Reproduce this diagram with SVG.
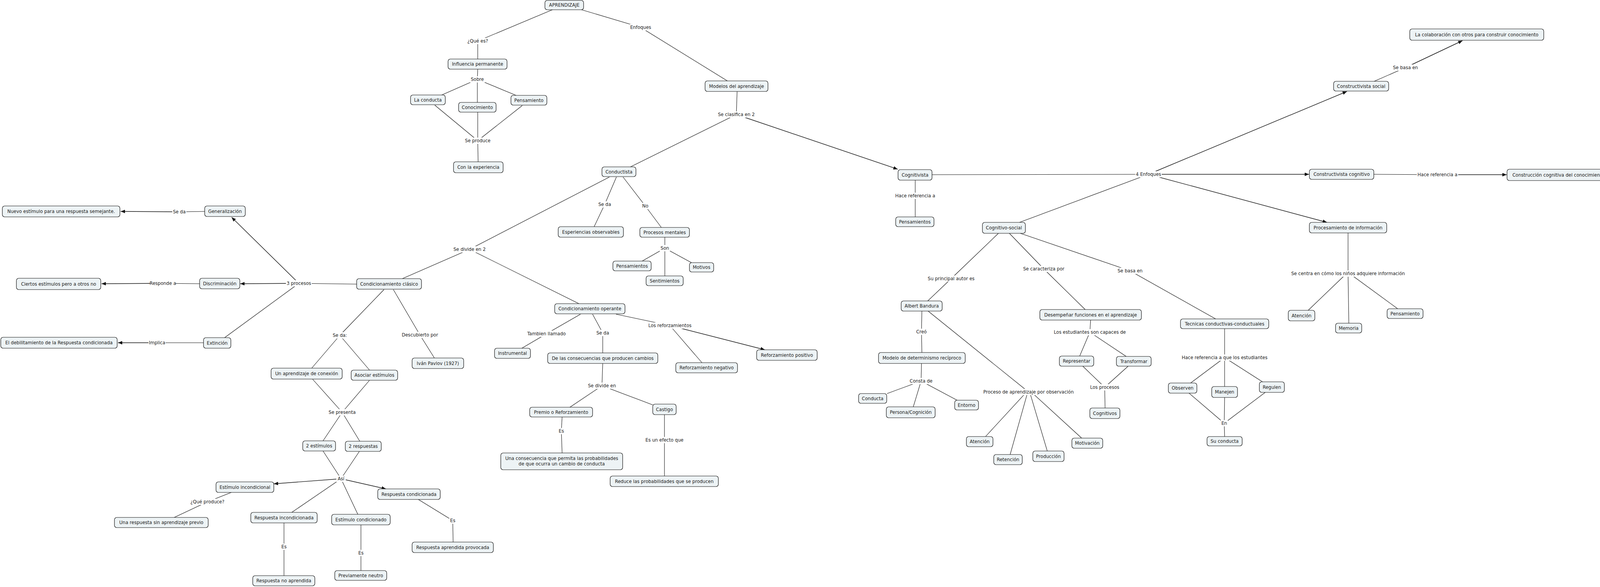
<svg xmlns="http://www.w3.org/2000/svg" width="4269" height="1502" viewBox="0 0 4269 1502">
<style>
.n rect{fill:#edf3f5;stroke:#111;stroke-width:1.2}
text{font-family:"DejaVu Sans","Verdana",sans-serif;font-size:11.6px;fill:#1a1a1a;text-anchor:middle}
.c line{stroke:#111;stroke-width:1.1;fill:none}
.c line.a{stroke-width:1.4;marker-end:url(#ar)}
.l rect{fill:#fff;stroke:none}
</style>
<defs>
<marker id="ar" markerUnits="userSpaceOnUse" markerWidth="11" markerHeight="9" refX="11" refY="4.5" orient="auto"><path d="M0,0 L11,4.5 L0,9 z" fill="#111"/></marker>
</defs>
<rect width="4269" height="1502" fill="#fff"/>
<g id="connectors" class="c">
<line x1="1414" y1="25" x2="1223" y2="105"/>
<line x1="1223" y1="105" x2="1223" y2="151"/>
<line x1="1223" y1="177" x2="1222" y2="203"/>
<line x1="1222" y1="203" x2="1131" y2="243"/>
<line x1="1222" y1="203" x2="1222" y2="262"/>
<line x1="1222" y1="203" x2="1321" y2="244"/>
<line x1="1113" y1="269" x2="1223" y2="360"/>
<line x1="1223" y1="287" x2="1223" y2="360"/>
<line x1="1337" y1="270" x2="1223" y2="360"/>
<line x1="1223" y1="360" x2="1224" y2="414"/>
<line x1="1489" y1="25" x2="1640" y2="70"/>
<line x1="1640" y1="70" x2="1862" y2="207"/>
<line x1="1887" y1="234" x2="1885" y2="293"/>
<line x1="1885" y1="293" x2="1614" y2="427"/>
<line class="a" x1="1885" y1="293" x2="2298" y2="433"/>
<line x1="1578" y1="453" x2="1548" y2="523"/>
<line x1="1548" y1="523" x2="1521" y2="580"/>
<line x1="1595" y1="453" x2="1652" y2="527"/>
<line x1="1652" y1="527" x2="1693" y2="582"/>
<line x1="1702" y1="607" x2="1702" y2="635"/>
<line x1="1702" y1="635" x2="1644" y2="668"/>
<line x1="1702" y1="635" x2="1702" y2="706"/>
<line x1="1702" y1="635" x2="1770" y2="672"/>
<line x1="1560" y1="453" x2="1202" y2="638"/>
<line x1="1202" y1="638" x2="1030" y2="713"/>
<line x1="1202" y1="638" x2="1482" y2="777"/>
<line x1="1486" y1="804" x2="1399" y2="854"/>
<line x1="1399" y1="854" x2="1336" y2="891"/>
<line x1="1517" y1="804" x2="1543" y2="852"/>
<line x1="1543" y1="852" x2="1543" y2="903"/>
<line x1="1577" y1="804" x2="1715" y2="833"/>
<line class="a" x1="1715" y1="833" x2="1958" y2="895"/>
<line x1="1715" y1="833" x2="1797" y2="928"/>
<line x1="1543" y1="930" x2="1541" y2="987"/>
<line x1="1541" y1="987" x2="1459" y2="1042"/>
<line x1="1541" y1="987" x2="1671" y2="1036"/>
<line x1="1439" y1="1067" x2="1437" y2="1103"/>
<line x1="1437" y1="1103" x2="1439" y2="1159"/>
<line x1="1701" y1="1061" x2="1701" y2="1126"/>
<line x1="1701" y1="1126" x2="1701" y2="1218"/>
<line x1="913" y1="727" x2="765" y2="725"/>
<line class="a" x1="765" y1="725" x2="593" y2="556"/>
<line class="a" x1="765" y1="725" x2="615" y2="726"/>
<line x1="765" y1="725" x2="575" y2="864"/>
<line x1="524" y1="541" x2="459" y2="542"/>
<line class="a" x1="459" y1="542" x2="309" y2="541"/>
<line x1="511" y1="726" x2="417" y2="725"/>
<line class="a" x1="417" y1="725" x2="260" y2="726"/>
<line x1="521" y1="877" x2="402" y2="877"/>
<line class="a" x1="402" y1="877" x2="302" y2="877"/>
<line x1="983" y1="741" x2="870" y2="858"/>
<line x1="870" y1="858" x2="798" y2="942"/>
<line x1="870" y1="858" x2="946" y2="947"/>
<line x1="1007" y1="741" x2="1075" y2="857"/>
<line x1="1075" y1="857" x2="1112" y2="916"/>
<line x1="800" y1="970" x2="876" y2="1055"/>
<line x1="946" y1="973" x2="876" y2="1055"/>
<line x1="876" y1="1055" x2="827" y2="1128"/>
<line x1="876" y1="1055" x2="921" y2="1129"/>
<line x1="827" y1="1154" x2="873" y2="1225"/>
<line x1="920" y1="1155" x2="873" y2="1225"/>
<line class="a" x1="873" y1="1225" x2="701" y2="1238"/>
<line class="a" x1="873" y1="1225" x2="988" y2="1251"/>
<line x1="873" y1="1225" x2="747" y2="1311"/>
<line x1="873" y1="1225" x2="916" y2="1316"/>
<line x1="592" y1="1260" x2="531" y2="1284"/>
<line x1="531" y1="1284" x2="446" y2="1324"/>
<line x1="727" y1="1338" x2="727" y2="1399"/>
<line x1="727" y1="1399" x2="727" y2="1473"/>
<line x1="924" y1="1343" x2="924" y2="1415"/>
<line x1="924" y1="1415" x2="924" y2="1460"/>
<line x1="1071" y1="1278" x2="1159" y2="1332"/>
<line x1="1159" y1="1332" x2="1160" y2="1387"/>
<line x1="2386" y1="447" x2="2940" y2="446"/>
<line class="a" x1="2940" y1="446" x2="3448" y2="234"/>
<line class="a" x1="2940" y1="446" x2="3351" y2="446"/>
<line class="a" x1="2940" y1="446" x2="3397" y2="569"/>
<line x1="2940" y1="446" x2="2610" y2="569"/>
<line x1="2343" y1="461" x2="2343" y2="501"/>
<line x1="2343" y1="501" x2="2343" y2="555"/>
<line x1="2556" y1="597" x2="2435" y2="713"/>
<line x1="2435" y1="713" x2="2375" y2="770"/>
<line x1="2584" y1="597" x2="2672" y2="688"/>
<line x1="2672" y1="688" x2="2778" y2="792"/>
<line x1="2612" y1="597" x2="2893" y2="693"/>
<line x1="2893" y1="693" x2="3112" y2="816"/>
<line x1="2360" y1="796" x2="2359" y2="849"/>
<line x1="2359" y1="849" x2="2360" y2="902"/>
<line x1="2376" y1="796" x2="2633" y2="1003"/>
<line x1="2359" y1="930" x2="2358" y2="975"/>
<line x1="2358" y1="975" x2="2271" y2="1007"/>
<line x1="2358" y1="975" x2="2338" y2="1041"/>
<line x1="2358" y1="975" x2="2450" y2="1024"/>
<line x1="2628" y1="1003" x2="2523" y2="1117"/>
<line x1="2631" y1="1003" x2="2586" y2="1163"/>
<line x1="2636" y1="1003" x2="2681" y2="1154"/>
<line x1="2640" y1="1003" x2="2769" y2="1121"/>
<line x1="2792" y1="819" x2="2790" y2="850"/>
<line x1="2790" y1="850" x2="2764" y2="911"/>
<line x1="2790" y1="850" x2="2883" y2="912"/>
<line x1="2772" y1="937" x2="2828" y2="991"/>
<line x1="2888" y1="937" x2="2828" y2="991"/>
<line x1="2828" y1="991" x2="2829" y2="1044"/>
<line x1="3135" y1="841" x2="3135" y2="915"/>
<line x1="3135" y1="915" x2="3048" y2="980"/>
<line x1="3135" y1="915" x2="3135" y2="989"/>
<line x1="3135" y1="915" x2="3232" y2="977"/>
<line x1="3044" y1="1006" x2="3134" y2="1083"/>
<line x1="3135" y1="1017" x2="3134" y2="1083"/>
<line x1="3239" y1="1004" x2="3134" y2="1083"/>
<line x1="3134" y1="1083" x2="3135" y2="1117"/>
<line x1="3451" y1="596" x2="3451" y2="700"/>
<line x1="3447" y1="700" x2="3349" y2="794"/>
<line x1="3451" y1="700" x2="3453" y2="827"/>
<line x1="3455" y1="700" x2="3578" y2="790"/>
<line x1="3518" y1="208" x2="3598" y2="173"/>
<line class="a" x1="3598" y1="173" x2="3744" y2="104"/>
<line x1="3517" y1="446" x2="3680" y2="447"/>
<line class="a" x1="3680" y1="447" x2="3857" y2="447"/>
</g>
<g id="labels" class="l">
<rect x="1195" y="97" width="56" height="16"/><text x="1223" y="109">¿Qué es?</text>
<rect x="1203" y="195" width="38" height="16"/><text x="1222" y="207">Sobre</text>
<rect x="1188" y="352" width="70" height="16"/><text x="1223" y="364">Se produce</text>
<rect x="1612" y="62" width="56" height="16"/><text x="1640" y="74">Enfoques</text>
<rect x="1834" y="285" width="102" height="16"/><text x="1885" y="297">Se clasifica en 2</text>
<rect x="1530" y="515" width="36" height="16"/><text x="1548" y="527">Se da</text>
<rect x="1642" y="519" width="20" height="16"/><text x="1652" y="531">No</text>
<rect x="1689" y="627" width="26" height="16"/><text x="1702" y="639">Son</text>
<rect x="1159" y="630" width="86" height="16"/><text x="1202" y="642">Se divide en 2</text>
<rect x="1353" y="846" width="92" height="16"/><text x="1399" y="858">Tambien llamado</text>
<rect x="1525" y="844" width="36" height="16"/><text x="1543" y="856">Se da</text>
<rect x="1660" y="825" width="110" height="16"/><text x="1715" y="837">Los reforzamientos</text>
<rect x="1504" y="979" width="74" height="16"/><text x="1541" y="991">Se divide en</text>
<rect x="1428" y="1095" width="18" height="16"/><text x="1437" y="1107">Es</text>
<rect x="1652" y="1118" width="98" height="16"/><text x="1701" y="1130">Es un efecto que</text>
<rect x="441" y="534" width="36" height="16"/><text x="459" y="546">Se da</text>
<rect x="384" y="717" width="66" height="16"/><text x="417" y="729">Responde a</text>
<rect x="732" y="717" width="66" height="16"/><text x="765" y="729">3 procesos</text>
<rect x="380" y="869" width="44" height="16"/><text x="402" y="881">Implica</text>
<rect x="850" y="850" width="40" height="16"/><text x="870" y="862">Se da:</text>
<rect x="1028" y="849" width="94" height="16"/><text x="1075" y="861">Descubierto por</text>
<rect x="840" y="1047" width="72" height="16"/><text x="876" y="1059">Se presenta</text>
<rect x="861" y="1217" width="24" height="16"/><text x="873" y="1229">Así</text>
<rect x="489" y="1276" width="84" height="16"/><text x="531" y="1288">¿Qué produce?</text>
<rect x="718" y="1391" width="18" height="16"/><text x="727" y="1403">Es</text>
<rect x="915" y="1407" width="18" height="16"/><text x="924" y="1419">Es</text>
<rect x="1150" y="1324" width="18" height="16"/><text x="1159" y="1336">Es</text>
<rect x="2906" y="438" width="68" height="16"/><text x="2940" y="450">4 Enfoques</text>
<rect x="2290" y="493" width="106" height="16"/><text x="2343" y="505">Hace referencia a</text>
<rect x="2372" y="705" width="126" height="16"/><text x="2435" y="717">Su principal autor es</text>
<rect x="2617" y="680" width="110" height="16"/><text x="2672" y="692">Se caracteriza por</text>
<rect x="2861" y="685" width="64" height="16"/><text x="2893" y="697">Se basa en</text>
<rect x="2343" y="841" width="32" height="16"/><text x="2359" y="853">Creó</text>
<rect x="2694" y="842" width="192" height="16"/><text x="2790" y="854">Los estudiantes son capaces de</text>
<rect x="2328" y="967" width="60" height="16"/><text x="2358" y="979">Consta de</text>
<rect x="2512" y="995" width="242" height="16"/><text x="2633" y="1007">Proceso de aprendizaje por observación</text>
<rect x="2790" y="983" width="76" height="16"/><text x="2828" y="995">Los procesos</text>
<rect x="3020" y="907" width="230" height="16"/><text x="3135" y="919">Hace referencia a que los estudiantes</text>
<rect x="3125" y="1075" width="18" height="16"/><text x="3134" y="1087">En</text>
<rect x="3298" y="692" width="306" height="16"/><text x="3451" y="704">Se centra en cómo los niños adquiere información</text>
<rect x="3566" y="165" width="64" height="16"/><text x="3598" y="177">Se basa en</text>
<rect x="3627" y="439" width="106" height="16"/><text x="3680" y="451">Hace referencia a</text>
</g>
<g id="nodes" class="n">
<g id="n-aprendizaje"><rect x="1395" y="1" width="99" height="24" rx="6"/><text x="1444.5" y="17">APRENDIZAJE</text></g>
<g id="n-influencia"><rect x="1147" y="151" width="151" height="26" rx="6"/><text x="1222.5" y="168">Influencia permanente</text></g>
<g id="n-laconducta"><rect x="1051" y="243" width="89" height="25" rx="6"/><text x="1095.5" y="259.5">La conducta</text></g>
<g id="n-conocimiento"><rect x="1174" y="262" width="96" height="25" rx="6"/><text x="1222" y="278.5">Conocimiento</text></g>
<g id="n-pensamiento-a"><rect x="1308" y="244" width="92" height="25" rx="6"/><text x="1354" y="260.5">Pensamiento</text></g>
<g id="n-conlaexperiencia"><rect x="1161" y="414" width="127" height="28" rx="6"/><text x="1224.5" y="432">Con la experiencia</text></g>
<g id="n-modelos"><rect x="1805" y="207" width="161" height="27" rx="6"/><text x="1885.5" y="224.5">Modelos del aprendizaje</text></g>
<g id="n-conductista"><rect x="1541" y="427" width="87" height="25" rx="6"/><text x="1584.5" y="443.5">Conductista</text></g>
<g id="n-esperiencias"><rect x="1429" y="580" width="167" height="27" rx="6"/><text x="1512.5" y="597.5">Esperiencias observables</text></g>
<g id="n-procesos"><rect x="1638" y="582" width="127" height="25" rx="6"/><text x="1701.5" y="598.5">Procesos mentales</text></g>
<g id="n-pensamientos-a"><rect x="1569" y="668" width="98" height="25" rx="6"/><text x="1618" y="684.5">Pensamientos</text></g>
<g id="n-motivos"><rect x="1765" y="672" width="62" height="24" rx="6"/><text x="1796" y="688">Motivos</text></g>
<g id="n-sentimientos"><rect x="1654" y="706" width="95" height="25" rx="6"/><text x="1701.5" y="722.5">Sentimientos</text></g>
<g id="n-condoperante"><rect x="1420" y="777" width="180" height="26" rx="6"/><text x="1510" y="794">Condicionamiento operante</text></g>
<g id="n-instrumental"><rect x="1266" y="891" width="92" height="26" rx="6"/><text x="1312" y="908">Instrumental</text></g>
<g id="n-delas"><rect x="1402" y="903" width="282" height="27" rx="6"/><text x="1543" y="920.5">De las consecuencias que producen cambios</text></g>
<g id="n-refneg"><rect x="1730" y="928" width="158" height="26" rx="6"/><text x="1809" y="945">Reforzamiento negativo</text></g>
<g id="n-refpos"><rect x="1937" y="895" width="155" height="27" rx="6"/><text x="2014.5" y="912.5">Reforzamiento positivo</text></g>
<g id="n-premio"><rect x="1356" y="1042" width="161" height="25" rx="6"/><text x="1436.5" y="1058.5">Premio o Reforzamiento</text></g>
<g id="n-castigo"><rect x="1671" y="1034" width="60" height="27" rx="6"/><text x="1701" y="1051.5">Castigo</text></g>
<g id="n-unaconsecuencia"><rect x="1282" y="1159" width="312" height="43" rx="6"/><text x="1438" y="1177">Una consecuencia que permita las probabilidades</text><text x="1438" y="1191">de que ocurra un cambio de conducta</text></g>
<g id="n-reduce"><rect x="1562" y="1218" width="277" height="27" rx="6"/><text x="1700.5" y="1235.5">Reduce las probabilidades que se producen</text></g>
<g id="n-nuevo"><rect x="6" y="527" width="301" height="28" rx="6"/><text x="156.5" y="545">Nuevo estímulo para una respuesta semejante.</text></g>
<g id="n-generalizacion"><rect x="524" y="527" width="104" height="27" rx="6"/><text x="576" y="544.5">Generalización</text></g>
<g id="n-discriminacion"><rect x="511" y="712" width="103" height="27" rx="6"/><text x="562.5" y="729.5">Discriminación</text></g>
<g id="n-ciertos"><rect x="42" y="712" width="216" height="29" rx="6"/><text x="150" y="730.5">Ciertos estímulos pero a otros no</text></g>
<g id="n-condclasico"><rect x="913" y="713" width="166" height="27" rx="6"/><text x="996" y="730.5">Condicionamiento clásico</text></g>
<g id="n-extincion"><rect x="521" y="864" width="70" height="27" rx="6"/><text x="556" y="881.5">Extinción</text></g>
<g id="n-debilitamiento"><rect x="2" y="863" width="298" height="28" rx="6"/><text x="151" y="881">El debilitamiento de la Respuesta condicionada</text></g>
<g id="n-pavlov"><rect x="1055" y="916" width="132" height="27" rx="6"/><text x="1121" y="933.5">Iván Pavlov (1927)</text></g>
<g id="n-unaprendizaje"><rect x="694" y="942" width="182" height="28" rx="6"/><text x="785" y="960">Un aprendizaje de conexión</text></g>
<g id="n-asociar"><rect x="899" y="947" width="119" height="26" rx="6"/><text x="958.5" y="964">Asociar estímulos</text></g>
<g id="n-2estimulos"><rect x="775" y="1128" width="84" height="26" rx="6"/><text x="817" y="1145">2 estímulos</text></g>
<g id="n-2respuestas"><rect x="884" y="1129" width="92" height="26" rx="6"/><text x="930" y="1146">2 respuestas</text></g>
<g id="n-estincond"><rect x="553" y="1233" width="148" height="27" rx="6"/><text x="627" y="1250.5">Estímulo incondicional</text></g>
<g id="n-respcond"><rect x="967" y="1251" width="160" height="27" rx="6"/><text x="1047" y="1268.5">Respuesta condicionada</text></g>
<g id="n-respincond"><rect x="642" y="1311" width="170" height="27" rx="6"/><text x="727" y="1328.5">Respuesta incondicionada</text></g>
<g id="n-estcond"><rect x="849" y="1316" width="150" height="27" rx="6"/><text x="924" y="1333.5">Estímulo condicionado</text></g>
<g id="n-unarespuesta"><rect x="293" y="1324" width="240" height="26" rx="6"/><text x="413" y="1341">Una respuesta sin aprendizaje previo</text></g>
<g id="n-respnoapr"><rect x="647" y="1473" width="159" height="26" rx="6"/><text x="726.5" y="1490">Respuesta no aprendida</text></g>
<g id="n-previamente"><rect x="857" y="1460" width="133" height="25" rx="6"/><text x="923.5" y="1476.5">Previamente neutro</text></g>
<g id="n-respaprendida"><rect x="1055" y="1387" width="208" height="27" rx="6"/><text x="1159" y="1404.5">Respuesta aprendida provocada</text></g>
<g id="n-cognitivista"><rect x="2299" y="434" width="87" height="27" rx="6"/><text x="2342.5" y="451.5">Cognitivista</text></g>
<g id="n-pensamientos-b"><rect x="2293" y="555" width="98" height="25" rx="6"/><text x="2342" y="571.5">Pensamientos</text></g>
<g id="n-cogsocial"><rect x="2515" y="569" width="110" height="28" rx="6"/><text x="2570" y="587">Cognitivo-social</text></g>
<g id="n-bandura"><rect x="2307" y="770" width="105" height="26" rx="6"/><text x="2359.5" y="787">Albert Bandura</text></g>
<g id="n-desempenar"><rect x="2662" y="792" width="260" height="27" rx="6"/><text x="2792" y="809.5">Desempeñar funciones en el aprendizaje</text></g>
<g id="n-tecnicas"><rect x="3022" y="816" width="226" height="25" rx="6"/><text x="3135" y="832.5">Tecnicas conductivas-conductuales</text></g>
<g id="n-modelodet"><rect x="2249" y="902" width="222" height="28" rx="6"/><text x="2360" y="920">Modelo de determinismo recíproco</text></g>
<g id="n-conducta"><rect x="2198" y="1007" width="72" height="25" rx="6"/><text x="2234" y="1023.5">Conducta</text></g>
<g id="n-persona"><rect x="2269" y="1041" width="125" height="28" rx="6"/><text x="2331.5" y="1059">Persona/Cognición</text></g>
<g id="n-entorno"><rect x="2444" y="1024" width="61" height="25" rx="6"/><text x="2474.5" y="1040.5">Entorno</text></g>
<g id="n-atencion-a"><rect x="2474" y="1117" width="68" height="26" rx="6"/><text x="2508" y="1134">Atención</text></g>
<g id="n-retencion"><rect x="2544" y="1163" width="73" height="26" rx="6"/><text x="2580.5" y="1180">Retención</text></g>
<g id="n-produccion"><rect x="2644" y="1154" width="80" height="27" rx="6"/><text x="2684" y="1171.5">Producción</text></g>
<g id="n-motivacion"><rect x="2744" y="1121" width="79" height="26" rx="6"/><text x="2783.5" y="1138">Motivación</text></g>
<g id="n-representar"><rect x="2712" y="911" width="88" height="26" rx="6"/><text x="2756" y="928">Representar</text></g>
<g id="n-transformar"><rect x="2858" y="912" width="89" height="25" rx="6"/><text x="2902.5" y="928.5">Transformar</text></g>
<g id="n-cognitivos"><rect x="2790" y="1044" width="77" height="27" rx="6"/><text x="2828.5" y="1061.5">Cognitivos</text></g>
<g id="n-observen"><rect x="2991" y="980" width="73" height="26" rx="6"/><text x="3027.5" y="997">Observen</text></g>
<g id="n-manejen"><rect x="3102" y="989" width="66" height="28" rx="6"/><text x="3135" y="1007">Manejen</text></g>
<g id="n-regulen"><rect x="3224" y="977" width="64" height="27" rx="6"/><text x="3256" y="994.5">Regulen</text></g>
<g id="n-suconducta"><rect x="3090" y="1117" width="90" height="24" rx="6"/><text x="3135" y="1133">Su conducta</text></g>
<g id="n-atencion-b"><rect x="3298" y="794" width="68" height="27" rx="6"/><text x="3332" y="811.5">Atención</text></g>
<g id="n-memoria"><rect x="3419" y="827" width="67" height="25" rx="6"/><text x="3452.5" y="843.5">Memoria</text></g>
<g id="n-pensamiento-b"><rect x="3551" y="790" width="92" height="25" rx="6"/><text x="3597" y="806.5">Pensamiento</text></g>
<g id="n-procesamiento"><rect x="3352" y="569" width="198" height="27" rx="6"/><text x="3451" y="586.5">Procesamiento de información</text></g>
<g id="n-constsocial"><rect x="3414" y="208" width="141" height="25" rx="6"/><text x="3484.5" y="224.5">Constructivista social</text></g>
<g id="n-colaboracion"><rect x="3609" y="74" width="343" height="29" rx="6"/><text x="3780.5" y="92.5">La colaboración con otros para construir conocimiento</text></g>
<g id="n-constcog"><rect x="3352" y="433" width="165" height="26" rx="6"/><text x="3434.5" y="450">Constructivista cognitivo</text></g>
<g id="n-construccion"><rect x="3858" y="433" width="409" height="29" rx="6"/><text x="4062.5" y="451.5">Construcción cognitiva del conocimiento y la compresión del niño</text></g>
</g>
</svg>
